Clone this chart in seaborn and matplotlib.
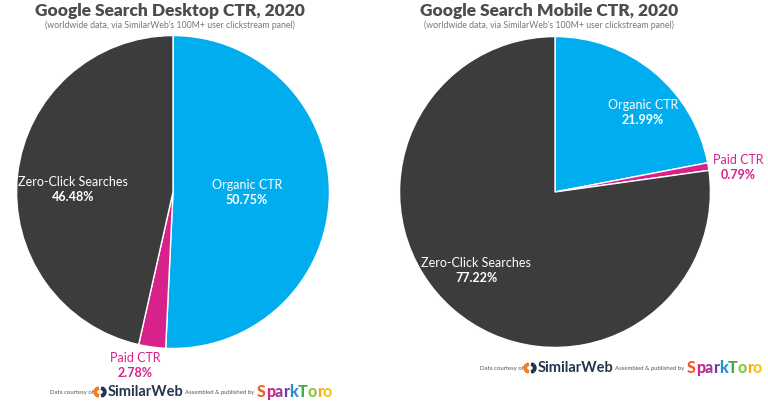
import matplotlib
matplotlib.use("Agg")
import matplotlib.pyplot as plt
import seaborn as sns
from matplotlib.patches import Wedge
from matplotlib.transforms import IdentityTransform

# data
categories = ["Organic CTR", "Paid CTR", "Zero-Click Searches"]
desktop_share = [50.75, 2.78, 46.48]
mobile_share = [21.99, 0.79, 77.22]
titles = ["Google Search Desktop CTR, 2020", "Google Search Mobile CTR, 2020"]
subtitle = "(worldwide data, via SimilarWeb's 100M+ user clickstream panel)"

sns.set_theme(style="white")
plt.rcParams['font.family'] = ['Lato', 'DejaVu Sans']

colors = ["#00aeef", "#d6228a", "#3c3c3c"]
W, H = 768, 406
fig = plt.figure(figsize=(W / 100, H / 100), dpi=100)
fig.patch.set_facecolor("white")
renderer = fig.canvas.get_renderer()


def px(x, y):
    return x / W, 1 - y / H


def pie_axes(cx, cy, r):
    ax = fig.add_axes([(cx - r) / W, (H - cy - r) / H, 2 * r / W, 2 * r / H])
    ax.axis("off")
    return ax


ax1 = pie_axes(173, 193, 158)
ax2 = pie_axes(555, 193, 157)

for ax, vals in [(ax1, desktop_share), (ax2, mobile_share)]:
    ax.pie(vals, colors=colors, startangle=90, counterclock=False, radius=1,
           wedgeprops=dict(edgecolor="white", linewidth=1.0))
    ax.set_aspect("equal")
    ax.set_xlim(-1.01, 1.01)
    ax.set_ylim(-1.01, 1.01)

# titles
for cx, t in [(170, titles[0]), (549, titles[1])]:
    fig.text(*px(cx, 11), t, ha="center", va="center", fontsize=12.5,
             fontweight="heavy", color="#4d4d4d")
    fig.text(*px(cx, 25), subtitle, ha="center", va="center", fontsize=6.3,
             color="#777777")


def label(x, y, name, val, col):
    fig.text(*px(x, y), name, ha="center", va="center", fontsize=9, color=col)
    fig.text(*px(x, y + 15), f"{val:.2f}%", ha="center", va="center",
             fontsize=9, fontweight="bold", color=col)


label(247, 185, categories[0], desktop_share[0], "white")
label(135, 358, categories[1], desktop_share[1], "#d6228a")
label(73, 182, categories[2], desktop_share[2], "white")
label(643, 105, categories[0], mobile_share[0], "white")
label(738, 160, categories[1], mobile_share[1], "#d6228a")
label(476, 263, categories[2], mobile_share[2], "white")

# footers
spark_cols = ["#f15a29", "#d6228a", "#9b3d96", "#6a3fa0", "#2a8fd0",
              "#3fae49", "#8dc63f", "#f7a81b", "#f2c90f"]


def footer(x, y):
    fig.text(*px(x, y), "Data courtesy of", ha="left", va="center",
             fontsize=4.3, color="#555555")
    # little SimilarWeb mark
    lx, ly = x + 50, H - y
    fig.add_artist(Wedge((lx - 1, ly), 5, 100, 260, width=2.5,
                         color="#f47b20", transform=IdentityTransform()))
    fig.add_artist(Wedge((lx + 1, ly), 5, -80, 80, width=2.5,
                         color="#243551", transform=IdentityTransform()))
    fig.text(*px(x + 58, y - 1), "SimilarWeb", ha="left", va="center",
             fontsize=10.5, fontweight="bold", color="#243551")
    fig.text(*px(x + 135, y), "Assembled & published by", ha="left",
             va="center", fontsize=4.3, color="#555555")
    xx = x + 207
    for ch, c in zip("SparkToro", spark_cols):
        t = fig.text(*px(xx, y - 1), ch, ha="left", va="center", fontsize=11.5,
                     fontweight="black", color=c)
        xx += t.get_window_extent(renderer).width


footer(50, 393)
footer(480, 369)

fig.savefig("out.png", dpi=100)
